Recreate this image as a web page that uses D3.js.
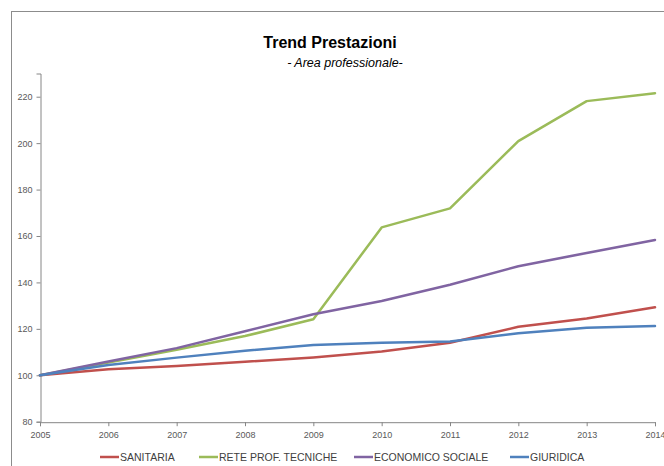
<!DOCTYPE html>
<html>
<head>
<meta charset="utf-8">
<script src="https://cdn.jsdelivr.net/npm/d3@7"></script>
<style>
  html, body { margin: 0; padding: 0; background: #fff; }
  svg { display: block; }
</style>
</head>
<body>
<svg id="chart" width="664" height="466"></svg>
<script>
// Index of services by professional area (2005 = 100)
const years = [2005, 2006, 2007, 2008, 2009, 2010, 2011, 2012, 2013, 2014];
const sanitaria = [100, 102.6, 104.0, 105.8, 107.7, 110.2, 114.0, 120.9, 124.5, 129.3];
const reteProfTecniche = [100, 105.5, 111.0, 116.9, 124.1, 163.7, 171.9, 200.9, 218.1, 221.5];
const economicoSociale = [100, 105.9, 111.7, 119.0, 126.3, 132.0, 139.0, 147.0, 152.7, 158.3];
const giuridica = [100, 104.4, 107.6, 110.6, 113.0, 114.0, 114.5, 118.1, 120.5, 121.2];
const seriesNames = ["SANITARIA", "RETE PROF. TECNICHE", "ECONOMICO SOCIALE", "GIURIDICA"];
const seriesColors = ["#C0504D", "#9BBB59", "#8064A2", "#4F81BD"];
const yTicks = [80, 100, 120, 140, 160, 180, 200, 220];

const series = [sanitaria, reteProfTecniche, economicoSociale, giuridica].map((vals, i) => ({
  name: seriesNames[i],
  color: seriesColors[i],
  points: vals.map((v, j) => ({ year: years[j], value: v }))
}));

const svg = d3.select("#chart");
const font = "'Liberation Sans', Arial, sans-serif";

// Outer chart frame
svg.append("rect")
  .attr("x", 11.5).attr("y", 11.5)
  .attr("width", 700).attr("height", 500)
  .attr("fill", "#fff")
  .attr("stroke", "#8c8c8c").attr("stroke-width", 1);

// Titles
svg.append("text")
  .attr("x", 330).attr("y", 48)
  .attr("text-anchor", "middle")
  .attr("font-family", font).attr("font-weight", "bold").attr("font-size", 16)
  .attr("fill", "#000")
  .text("Trend Prestazioni");
svg.append("text")
  .attr("x", 345).attr("y", 67)
  .attr("text-anchor", "middle")
  .attr("font-family", font).attr("font-style", "italic").attr("font-size", 12.5)
  .attr("fill", "#000")
  .text("- Area professionale-");

// Scales
const x = d3.scaleLinear().domain([2005, 2014]).range([40, 655]);
const y = d3.scaleLinear().domain([80, 230]).range([421.7, 73.5]);

// Y axis
const yAxis = d3.axisLeft(y).tickValues(yTicks).tickSize(4).tickPadding(4).tickFormat(d3.format("d"));
const gy = svg.append("g").attr("transform", "translate(40.5,0)").call(yAxis);
gy.select(".domain").attr("stroke", "#868686");
gy.selectAll(".tick line").attr("stroke", "#868686");
gy.selectAll(".tick text")
  .attr("font-family", font).attr("font-size", 9).attr("fill", "#595959");

// X axis
const xAxis = d3.axisBottom(x).tickValues(years).tickSize(4).tickPadding(5).tickFormat(d3.format("d"));
const gx = svg.append("g").attr("transform", `translate(0,${y(80) + 0.5})`).call(xAxis);
gx.select(".domain").attr("stroke", "#868686");
gx.selectAll(".tick line").attr("stroke", "#868686");
gx.selectAll(".tick text")
  .attr("font-family", font).attr("font-size", 9).attr("fill", "#595959");

// Lines
const line = d3.line().x(d => x(d.year)).y(d => y(d.value));
svg.append("g").selectAll("path")
  .data(series)
  .join("path")
  .attr("d", d => line(d.points))
  .attr("fill", "none")
  .attr("stroke", d => d.color)
  .attr("stroke-width", 2.5)
  .attr("stroke-linejoin", "round")
  .attr("stroke-linecap", "round");

// Legend
const legendX = [100, 199, 354, 510];
const legend = svg.append("g").attr("transform", "translate(0,457)");
const item = legend.selectAll("g")
  .data(series)
  .join("g")
  .attr("transform", (d, i) => `translate(${legendX[i]},0)`);
item.append("line")
  .attr("x1", 0).attr("x2", 19)
  .attr("stroke", d => d.color).attr("stroke-width", 2.5);
item.append("text")
  .attr("x", 20).attr("y", 4)
  .attr("font-family", font).attr("font-size", 10.5).attr("fill", "#404040")
  .text(d => d.name);
</script>
</body>
</html>
